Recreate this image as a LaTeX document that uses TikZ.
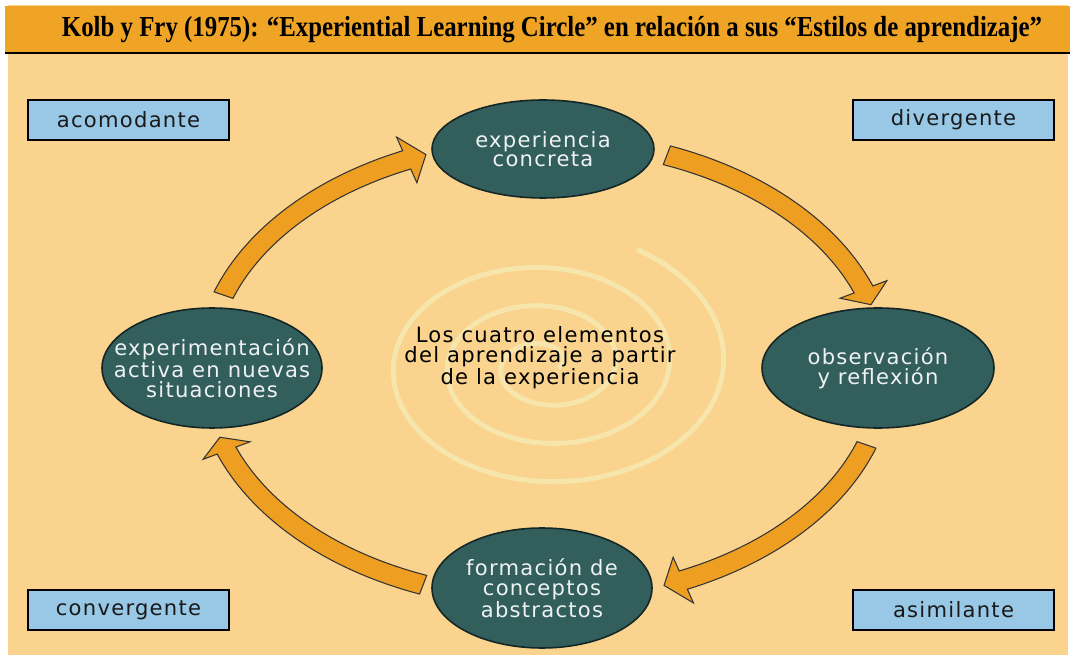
\documentclass[tikz,border=0pt]{standalone}
\usepackage{graphicx}
\usepackage{fontspec}
\setmainfont{Liberation Serif}
\newfontfamily\lblfont[LetterSpace=6]{DejaVu Sans}
\usetikzlibrary{calc}
\definecolor{sand}{RGB}{250,212,142}
\definecolor{bar}{RGB}{240,164,38}
\definecolor{arrowor}{RGB}{238,158,32}
\definecolor{slate}{RGB}{50,94,92}
\definecolor{sky}{RGB}{152,200,230}
\definecolor{cream}{RGB}{246,230,172}
\newcommand{\cyclearrow}[3]{% tail, head base, tip (angles)
\draw[arrowbody] (#1:7 and 4.8) arc[start angle=#1, end angle=#2, x radius=7, y radius=4.8]
  -- (#2:7.3 and 5.1) -- (#3:6.8 and 4.6) -- (#2:6.3 and 4.1) -- (#2:6.6 and 4.4)
  arc[start angle=#2, end angle=#1, x radius=6.6, y radius=4.4] -- cycle;}
\begin{document}
\begin{tikzpicture}[
  stagebg/.style={fill=slate, draw=slate!40!black, line width=0.9pt},
  stagetext/.style={font=\lblfont\fontsize{12}{11.2}\selectfont, text=white!92!slate, align=center},
  stylebox/.style={draw=black, fill=sky, line width=0.9pt, minimum width=4.02cm, minimum height=0.8cm, inner sep=0pt, font=\lblfont\fontsize{12}{14}\selectfont, text=black!90},
  arrowbody/.style={fill=arrowor, draw=black!80, line width=0.6pt, line join=miter}]
\useasboundingbox (0,0) rectangle (21.48,13.16);
\fill[white] (0,0) rectangle (21.48,13.16);
\fill[sand] (0.16,0.06) rectangle (21.36,13.06);
% title bar
\fill[bar] (0.1,12.12) rectangle (21.4,13.04);
\draw[line width=1.2pt] (0.1,12.1) -- (21.4,12.1);
\node (title) at (11.04,12.56) {\resizebox{19.6cm}{\height}{\fontsize{16.5}{18}\selectfont\bfseries Kolb y Fry (1975): “Experiential Learning Circle” en relación a sus “Estilos de aprendizaje”}};
% spiral and cycle
\coordinate (cyc) at (10.9,5.76);
\begin{scope}[shift={(10.9,5.86)}]
\draw[cream, line width=2.8pt, line cap=round] plot[domain=0:1150, samples=360, smooth]
  ({(0.3+3.45*\x/1150)*cos(\x-10)}, {(0.2+2.45*\x/1150)*sin(\x-10)});
\end{scope}
\begin{scope}[shift={(cyc)}]
\cyclearrow{161}{114}{110.5}
\cyclearrow{69}{20.5}{16.5}
\cyclearrow{-19}{-66}{-69.5}
\cyclearrow{-111}{-159.5}{-163}
\end{scope}
% the four stages
\filldraw[stagebg] (10.86,10.18) ellipse [x radius=2.22, y radius=0.98];
\filldraw[stagebg] (17.56,5.80) ellipse [x radius=2.32, y radius=1.2];
\filldraw[stagebg] (10.84,1.40) ellipse [x radius=2.2, y radius=1.2];
\filldraw[stagebg] (4.24,5.80) ellipse [x radius=2.2, y radius=1.2];
\node[stagetext] (conc) at (10.86,10.18) {experiencia\\concreta};
\node[stagetext] (obs) at (17.56,5.80) {observación\\y reflexión};
\node[stagetext] (abst) at (10.84,1.40) {formación de\\conceptos\\abstractos};
\node[stagetext] (act) at (4.24,5.80) {experimentación\\activa en nuevas\\situaciones};
\node[stagetext, text=black] (core) at (10.8,6.0) {Los cuatro elementos\\del aprendizaje a partir\\de la experiencia};
% learning styles
\node[stylebox] (acom) at (2.57,10.76) {acomodante};
\node[stylebox] (div) at (19.07,10.76) {divergente};
\node[stylebox] (conv) at (2.57,0.96) {convergente};
\node[stylebox] (asim) at (19.07,0.96) {asimilante};
\end{tikzpicture}
\end{document}
